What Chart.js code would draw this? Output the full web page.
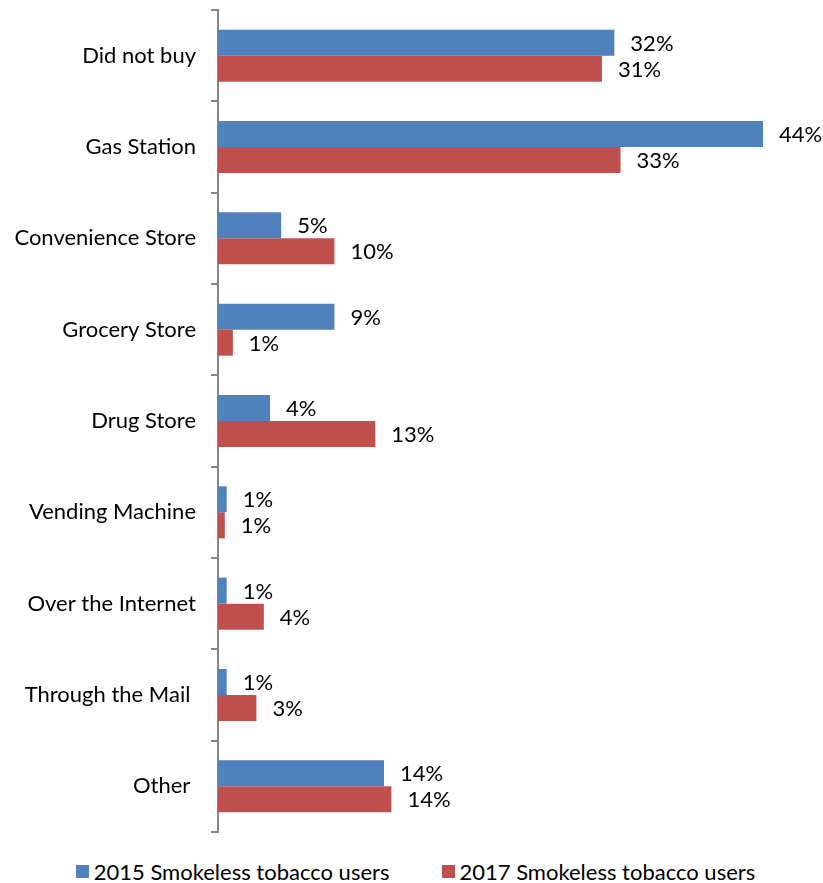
<!DOCTYPE html>
<html lang="en">
<head>
    <meta charset="UTF-8">
    <title>Where smokeless tobacco was bought</title>
    <script src="https://cdn.jsdelivr.net/npm/chart.js"></script>
    <style>
        html, body {
            margin: 0;
            padding: 0;
            background: #fff;
        }
        #wrap {
            width: 823px;
            height: 850px;
        }
        #legend {
            width: 823px;
            height: 24px;
            padding-top: 9px;
            padding-left: 4px;
            box-sizing: content-box;
            display: flex;
            justify-content: center;
            align-items: center;
            font-family: Lato, "Open Sans", sans-serif;
            font-size: 22px;
            color: #000;
        }
        #legend .item {
            display: flex;
            align-items: center;
            margin: 0 26px;
        }
        #legend .box {
            width: 13px;
            height: 13px;
            margin-right: 5px;
        }
    </style>
</head>
<body>
    <div id="wrap"><canvas id="chart"></canvas></div>
    <div id="legend"></div>
    <script>
        // categories, top to bottom
        const categories = ['Did not buy', 'Gas Station', 'Convenience Store', 'Grocery Store', 'Drug Store',
            'Vending Machine', 'Over the Internet', 'Through the Mail ', 'Other '];

        // bar lengths (%)
        const users2015 = [32.0, 44.0, 5.1, 9.4, 4.2, 0.7, 0.7, 0.7, 13.4];
        const users2017 = [31.0, 32.5, 9.4, 1.2, 12.7, 0.55, 3.7, 3.1, 14.0];

        // printed labels next to the bars
        const labels2015 = ['32%', '44%', '5%', '9%', '4%', '1%', '1%', '1%', '14%'];
        const labels2017 = ['31%', '33%', '10%', '1%', '13%', '1%', '4%', '3%', '14%'];

        const seriesNames = ['2015 Smokeless tobacco users', '2017 Smokeless tobacco users'];
        const seriesColors = ['#4F81BD', '#C0504D'];

        const FONT = 'Lato, "Open Sans", sans-serif';

        // draws the percent text to the right of each bar
        const barLabels = {
            id: 'barLabels',
            afterDatasetsDraw(chart) {
                const ctx = chart.ctx;
                const texts = [labels2015, labels2017];
                ctx.save();
                ctx.font = '22px ' + FONT;
                ctx.fillStyle = '#000';
                ctx.textAlign = 'left';
                ctx.textBaseline = 'middle';
                chart.data.datasets.forEach((ds, i) => {
                    chart.getDatasetMeta(i).data.forEach((bar, j) => {
                        ctx.fillText(texts[i][j], bar.x + 16, bar.y + 1);
                    });
                });
                ctx.restore();
            }
        };

        const ctx = document.getElementById('chart').getContext('2d');
        const chart = new Chart(ctx, {
            type: 'bar',
            data: {
                labels: categories,
                datasets: seriesNames.map((name, i) => ({
                    label: name,
                    data: i === 0 ? users2015 : users2017,
                    backgroundColor: seriesColors[i],
                    categoryPercentage: 0.57,
                    barPercentage: 1.0
                }))
            },
            options: {
                indexAxis: 'y',
                responsive: true,
                maintainAspectRatio: false,
                animation: false,
                layout: {
                    padding: { top: 10, right: 60, left: 0, bottom: 18 }
                },
                scales: {
                    x: {
                        display: false,
                        min: 0,
                        max: 44
                    },
                    y: {
                        afterFit(scale) {
                            scale.width = 218;
                            scale.paddingTop = 0;
                            scale.paddingBottom = 0;
                        },
                        grid: {
                            offset: true,
                            drawOnChartArea: false,
                            drawTicks: true,
                            tickLength: 7,
                            color: '#868686',
                            lineWidth: 2
                        },
                        border: {
                            display: true,
                            color: '#868686',
                            width: 2
                        },
                        ticks: {
                            padding: 15,
                            color: '#000',
                            font: { family: FONT, size: 22 }
                        }
                    }
                },
                plugins: {
                    legend: { display: false },
                    tooltip: { enabled: false }
                }
            },
            plugins: [barLabels]
        });

        // legend below the chart
        const legendEl = document.getElementById('legend');
        seriesNames.forEach((name, i) => {
            const item = document.createElement('div');
            item.className = 'item';
            item.innerHTML = `<span class="box" style="background:${seriesColors[i]}"></span><span>${name}</span>`;
            legendEl.appendChild(item);
        });
    </script>
</body>
</html>
